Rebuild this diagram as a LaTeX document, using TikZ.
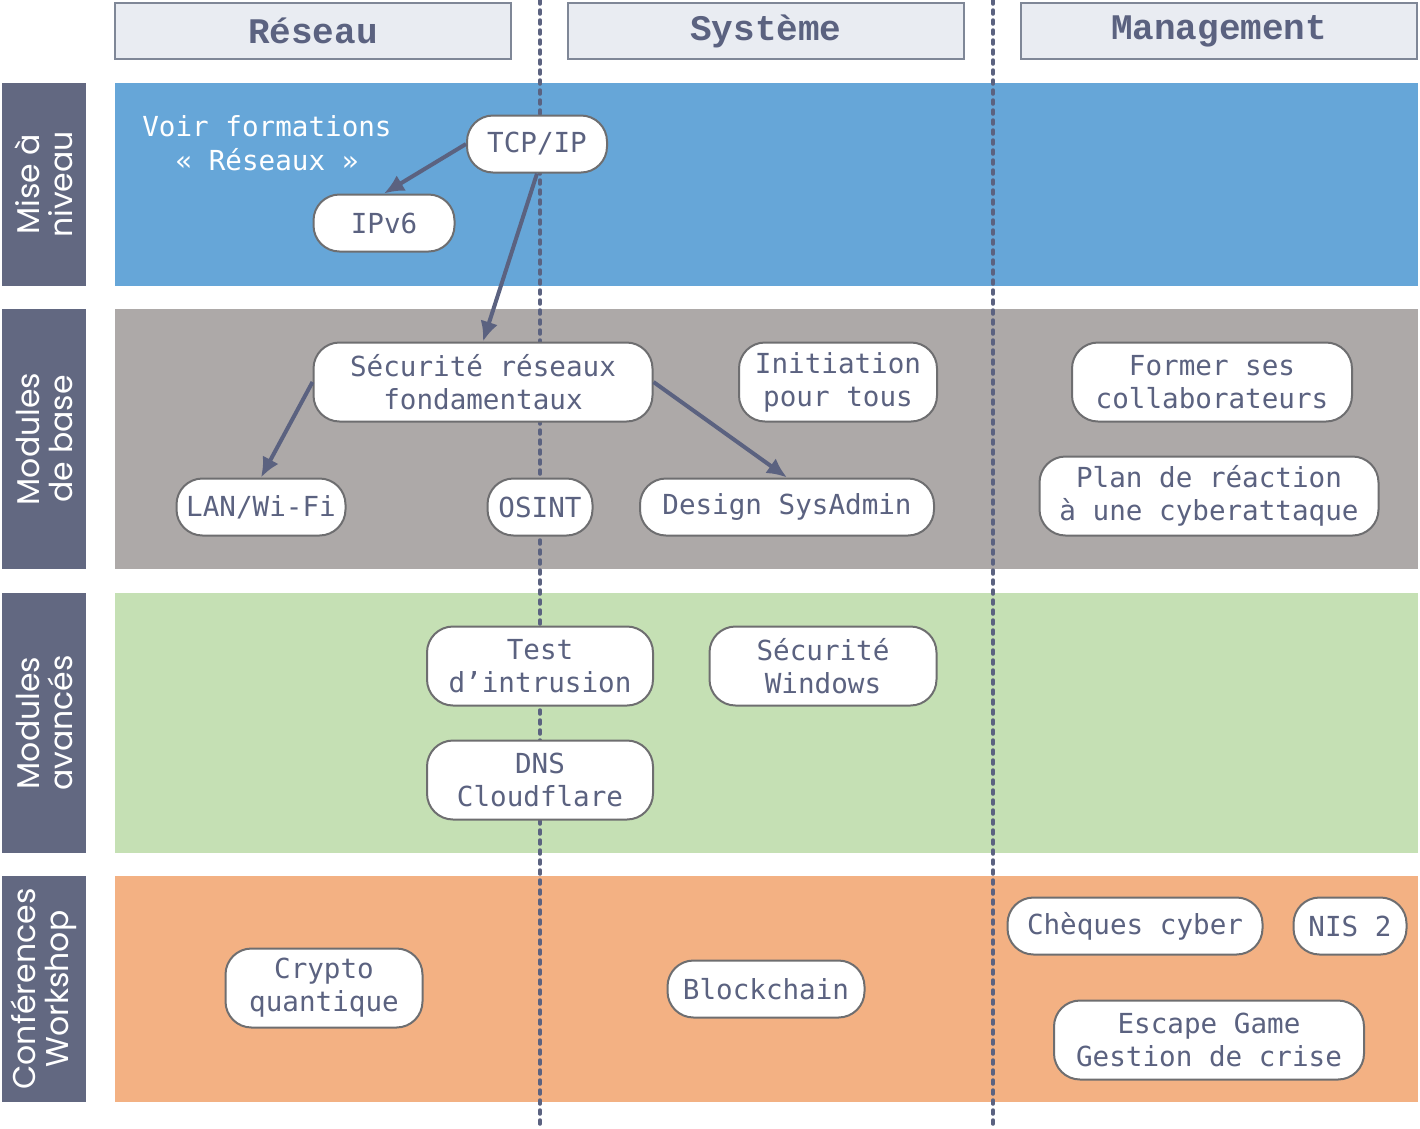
\documentclass[tikz,border=0pt]{standalone}
\usepackage{fontspec}
\newfontfamily\modfont{DejaVu Sans Mono}
\newfontfamily\headfont{Liberation Mono}
\newfontfamily\rowfont{Poppins}
\usetikzlibrary{arrows.meta}

\definecolor{slate}{HTML}{5B6280}
\definecolor{rowgrey}{HTML}{626881}
\definecolor{headfill}{HTML}{E9ECF2}
\definecolor{headline}{HTML}{7F8797}
\definecolor{bandblue}{HTML}{66A6D8}
\definecolor{bandgrey}{HTML}{ADA9A8}
\definecolor{bandgreen}{HTML}{C5E0B4}
\definecolor{bandorange}{HTML}{F3B183}
\definecolor{modline}{HTML}{6E6E70}

\tikzset{
	head/.style={draw=headline, line width=1.3pt, fill=headfill, text=slate,
		font=\headfont\bfseries\fontsize{36}{40}\selectfont,
		minimum width=396pt, minimum height=56pt, inner sep=0pt},
	rowlab/.style={fill=rowgrey, text=white, rotate=90, align=center,
		font=\rowfont\fontsize{31.5}{33}\selectfont,
		minimum height=84pt, inner sep=0pt},
	mod/.style={draw=modline, line width=2pt, fill=white, text=slate,
		rounded corners=26pt, align=center, inner sep=0pt,
		font=\modfont\fontsize{27.6}{33}\selectfont,
		minimum height=57pt},
	mod2/.style={mod, minimum height=79pt},
	arr/.style={-{Latex[length=20pt,width=18pt]}, line width=4pt, draw=slate},
	sep/.style={draw=slate, line width=3.5pt, line cap=round, dash pattern=on 4pt off 6pt}
}

\begin{document}
\begin{tikzpicture}[x=1pt, y=-1pt]
		\useasboundingbox (0,0) rectangle (1420,1128);
		
		% column headers
		\node[head] (reseau) at (313,31) {Réseau};
		\node[head] (systeme) at (766,31) {Système};
		\node[head] (management) at (1219,31) {Management};
		
		% bands
		\fill[bandblue] (115,83) rectangle (1418,286);
		\fill[bandgrey] (115,309) rectangle (1418,569);
		\fill[bandgreen] (115,593) rectangle (1418,853);
		\fill[bandorange] (115,876) rectangle (1418,1102);
		
		% row labels
		\node[rowlab, minimum width=203pt] (niveau) at (44,184.5) {Mise à\\niveau};
		\node[rowlab, minimum width=260pt] (base) at (44,439) {Modules\\de base};
		\node[rowlab, minimum width=260pt] (avances) at (44,723) {Modules\\avancés};
		\node[rowlab, minimum width=226pt] (conf) at (44,989) {Conférences\\Workshop};
		
		% column separators
		\coordinate (s1a) at (540,0);
		\coordinate (s1b) at (540,1128);
		\coordinate (s2a) at (993,0);
		\coordinate (s2b) at (993,1128);
		\draw[sep] (s1a) -- (s1b);
		\draw[sep] (s2a) -- (s2b);
		
		% Mise a niveau
		\node[text=white, align=center, font=\modfont\fontsize{27.6}{34}\selectfont] (voir) at (267,143)
		{Voir formations\\« Réseaux »};
		\node[mod, minimum width=140pt] (tcp) at (537,144) {TCP/IP};
		\node[mod, minimum width=141pt] (ipv6) at (384,223) {IPv6};
		
		% Modules de base
		\node[mod2, minimum width=339pt] (secres) at (483,382) {Sécurité réseaux\\fondamentaux};
		\node[mod2, minimum width=198pt] (initiation) at (838,382) {Initiation\\pour tous};
		\node[mod2, minimum width=280pt] (former) at (1212,382) {Former ses\\collaborateurs};
		\node[mod, minimum width=169pt] (lan) at (261,507) {LAN/Wi-Fi};
		\node[mod, minimum width=105pt] (osint) at (540,507) {OSINT};
		\node[mod, minimum width=294pt] (design) at (787,507) {Design SysAdmin};
		\node[mod2, minimum width=339pt] (plan) at (1209,496) {Plan de réaction\\à une cyberattaque};
		
		% Modules avances
		\node[mod2, minimum width=226pt] (intrusion) at (540,666) {Test\\d’intrusion};
		\node[mod2, minimum width=227pt] (windows) at (823,666) {Sécurité\\Windows};
		\node[mod2, minimum width=226pt] (dns) at (540,780) {DNS\\Cloudflare};
		
		% Conferences
		\node[mod2, minimum width=197pt] (crypto) at (324,988) {Crypto\\quantique};
		\node[mod, minimum width=197pt] (blockchain) at (766,989) {Blockchain};
		\node[mod, minimum width=255pt] (cheques) at (1135,926) {Chèques cyber};
		\node[mod, minimum width=113pt] (nis) at (1350,926) {NIS 2};
		\node[mod2, minimum width=310pt] (escape) at (1209,1040) {Escape Game\\Gestion de crise};
		
		% arrows
		\draw[arr] (tcp.west) -- (ipv6.north);
		\draw[arr] (tcp.south) -- (secres.north);
		\draw[arr] (secres.west) -- (lan.north);
		\draw[arr] (secres.east) -- (design.north);
		
	\end{tikzpicture}
\end{document}
